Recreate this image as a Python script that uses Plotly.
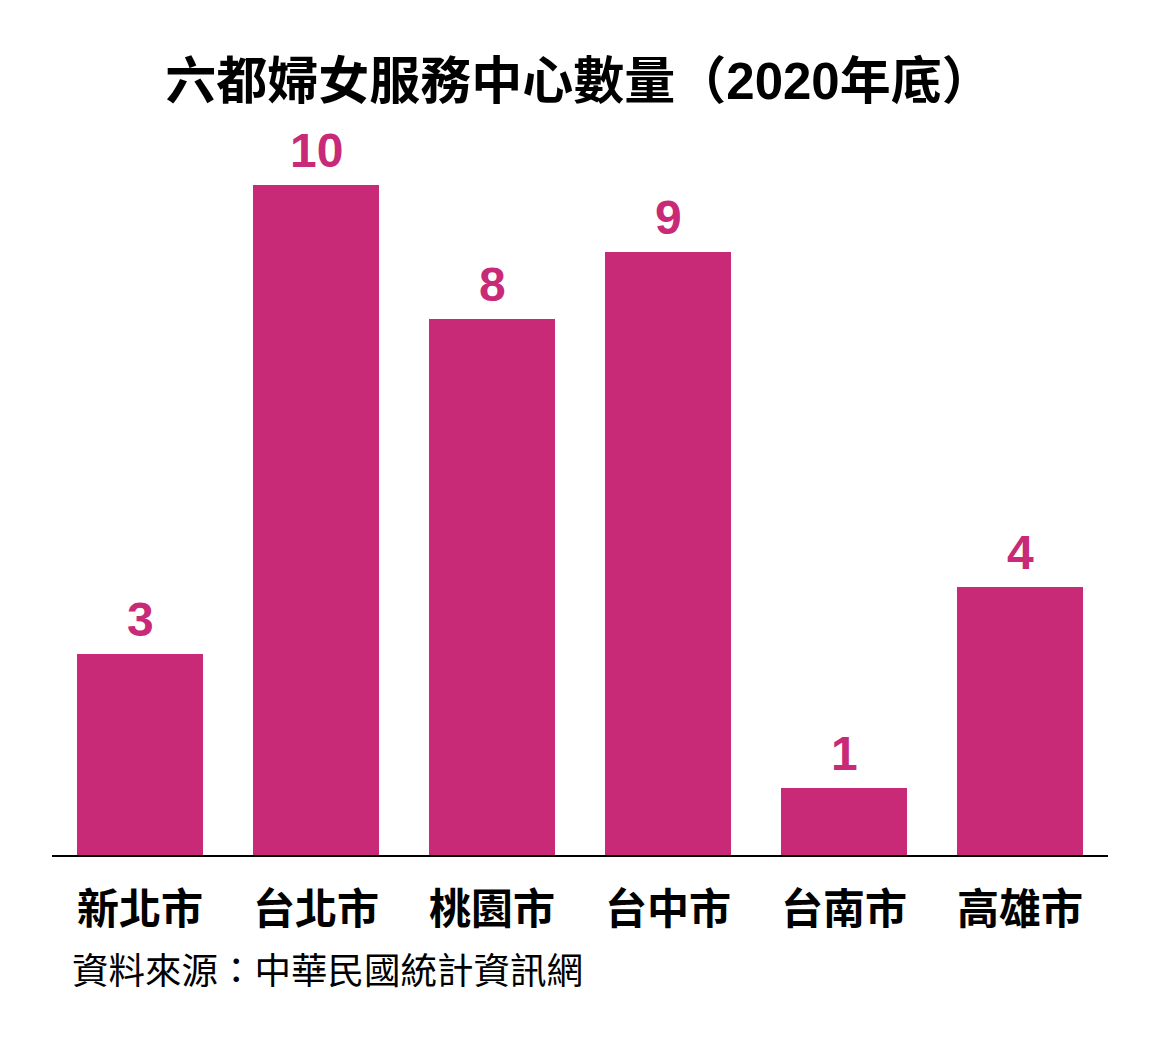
import plotly.graph_objects as go

categories = ["新北市", "台北市", "桃園市", "台中市", "台南市", "高雄市"]
values = [3, 10, 8, 9, 1, 4]
title_text = "六都婦女服務中心數量（2020年底）"
source_text = "資料來源：中華民國統計資訊網"

BAR = "#C92A78"
FONT = "Liberation Sans, Noto Sans CJK TC, sans-serif"

W, H = 1166, 1050
OFF = 8  # page body margin
ml, mr, mt, mb = 52 - OFF, 58 + OFF, 120 - OFF, 195 + OFF
plot_h = H - mt - mb
plot_w = W - ml - mr
ymax = plot_h / 67.0

fig = go.Figure(go.Bar(
    x=categories, y=values,
    marker=dict(color=BAR, line=dict(width=0)),
    hoverinfo="x+y",
))

annotations = [dict(x=c, y=v, text=str(v), xref="x", yref="y",
                    xanchor="center", yanchor="bottom", yshift=6, showarrow=False,
                    font=dict(family=FONT, size=48, color=BAR, weight="bold"))
               for c, v in zip(categories, values)]
annotations.append(dict(text=source_text, xref="paper", yref="paper",
                        x=(75 - 52) / plot_w - 5 / plot_w, y=-(972 - 855) / plot_h,
                        xanchor="left", yanchor="middle", showarrow=False,
                        font=dict(family=FONT, size=36.5, color="black")))

fig.update_layout(
    width=W, height=H,
    margin=dict(l=ml, r=mr, t=mt, b=mb),
    paper_bgcolor="white", plot_bgcolor="white",
    bargap=0.284,
    showlegend=False,
    title=dict(text="<b>" + title_text + "</b>", x=(579 - OFF) / W, xanchor="center",
               y=1 - (81 - OFF) / H, yanchor="middle",
               font=dict(family=FONT, size=51, color="black")),
    xaxis=dict(showgrid=False, showline=True, linecolor="black", linewidth=2,
               ticks="", tickfont=dict(family=FONT, size=42, color="black", weight="bold"),
               ticklabelstandoff=17, fixedrange=True),
    yaxis=dict(range=[0, ymax], visible=False, showgrid=False, fixedrange=True),
    annotations=annotations,
)

fig.write_html("out.html")
